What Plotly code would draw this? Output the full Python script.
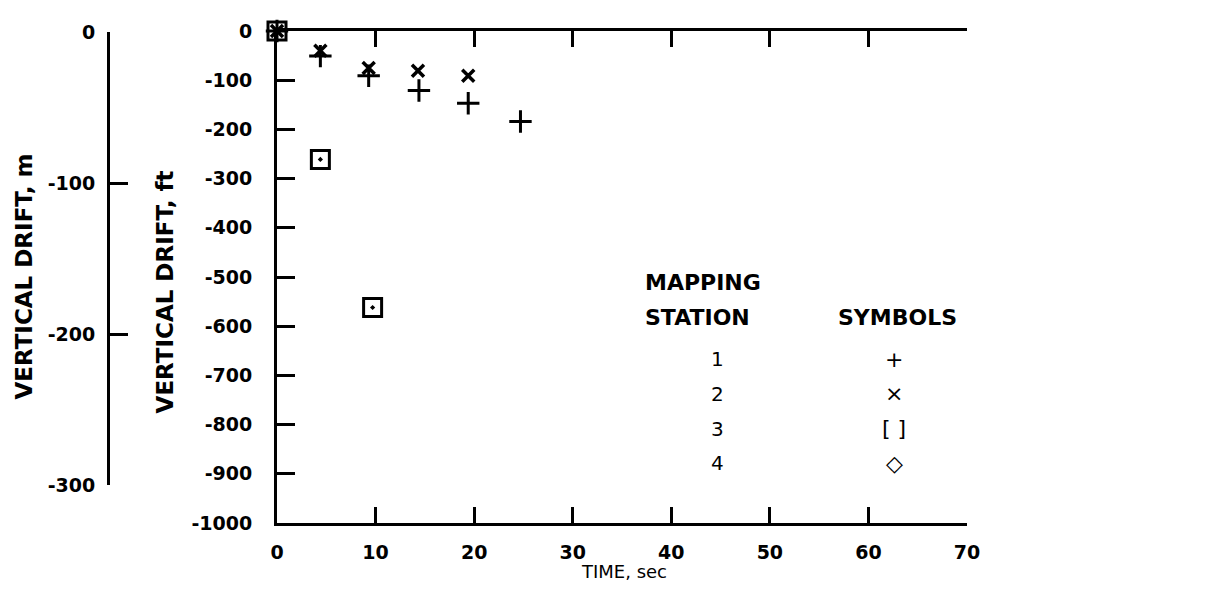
import plotly.graph_objects as go

# ---- data ----
station1_time = [0, 4.4, 9.3, 14.4, 19.4, 24.7]
station1_drift_ft = [0, -51, -91, -121, -147, -184]

station2_time = [0, 4.4, 9.3, 14.3, 19.4]
station2_drift_ft = [0, -40, -75, -81, -91]

station3_time = [0, 4.4, 9.7]
station3_drift_ft = [0, -261, -562]

x_ticks = [0, 10, 20, 30, 40, 50, 60, 70]
ft_ticks = [0, -100, -200, -300, -400, -500, -600, -700, -800, -900, -1000]
m_ticks = [0, -100, -200, -300]

legend_stations = ["1", "2", "3", "4"]
legend_symbols = ["+", "×", "[ ]", "◇"]

# page body has an 8px margin, so the figure is drawn 8px in from the window edge
OFF = 8
W, H = 1206 - 2 * OFF, 594 - 2 * OFF
# plot area in window pixels: x 277..967, y 28..523 ; extra left area for metre axis
L_SCR, R_SCR, T_SCR, B_SCR = 100, 967, 28, 523
ML, MT = L_SCR - OFF, T_SCR - OFF
MR = W - (R_SCR - OFF)
MB = H - (B_SCR - OFF)
PW = R_SCR - L_SCR
PH = B_SCR - T_SCR

def px_x(p):
    return (p - L_SCR) / PW

def px_y(p):
    return (B_SCR - p) / PH

FONT_AX = "DejaVu Sans"
black = "#000000"

fig = go.Figure()

fig.add_trace(go.Scatter(
    x=station1_time, y=station1_drift_ft, mode="markers", name="1",
    marker=dict(symbol="cross-thin-open", size=16, line=dict(width=3, color=black), color=black),
    cliponaxis=False, showlegend=False))
fig.add_trace(go.Scatter(
    x=station2_time, y=station2_drift_ft, mode="markers", name="2",
    marker=dict(symbol="x-thin-open", size=12, line=dict(width=3.5, color=black), color=black),
    cliponaxis=False, showlegend=False))
fig.add_trace(go.Scatter(
    x=station3_time, y=station3_drift_ft, mode="markers", name="3",
    marker=dict(symbol="square-open-dot", size=18, line=dict(width=3, color=black), color=black),
    cliponaxis=False, showlegend=False))
# empty trace so the metre axis is drawn
fig.add_trace(go.Scatter(x=[], y=[], yaxis="y2", showlegend=False, hoverinfo="skip"))

tickfont = dict(family=FONT_AX, size=19, color=black, weight="bold")

fig.update_layout(
    width=W, height=H,
    margin=dict(l=ML, r=MR, t=MT, b=MB),
    paper_bgcolor="white", plot_bgcolor="rgba(0,0,0,0)",
    xaxis=dict(
        domain=[px_x(277), 1], range=[0, 70],
        tickvals=x_ticks, ticktext=[str(v) for v in x_ticks],
        ticks="inside", ticklen=16, tickwidth=3, tickcolor=black,
        showline=True, linewidth=3, linecolor=black, mirror="ticks",
        showgrid=False, zeroline=False, tickfont=tickfont, ticklabelstandoff=10,
    ),
    yaxis=dict(
        domain=[0, 1], range=[-1000, 0],
        tickvals=ft_ticks, ticktext=[str(v) for v in ft_ticks],
        ticks="inside", ticklen=18, tickwidth=3, tickcolor=black,
        showline=True, linewidth=3, linecolor=black,
        showgrid=False, zeroline=False, tickfont=tickfont, ticklabelstandoff=18,
    ),
    yaxis2=dict(
        domain=[px_y(485), px_y(29)], range=[-300, 0],
        anchor="free", position=px_x(108), side="left",
        tickvals=m_ticks, ticktext=[str(v) for v in m_ticks],
        ticks="inside", ticklen=18, tickwidth=3, tickcolor=black,
        showline=True, linewidth=3, linecolor=black,
        showgrid=False, zeroline=False, tickfont=tickfont, ticklabelstandoff=8,
    ),
)

ann = []
title_font = dict(family=FONT_AX, size=23, color=black, weight="bold")
ann.append(dict(text="VERTICAL DRIFT, m", x=px_x(24), y=px_y(275), xref="paper", yref="paper",
                textangle=-90, showarrow=False, font=title_font, xanchor="center", yanchor="middle"))
ann.append(dict(text="VERTICAL DRIFT, ft", x=px_x(165), y=px_y(291), xref="paper", yref="paper",
                textangle=-90, showarrow=False, font=title_font, xanchor="center", yanchor="middle"))
ann.append(dict(text="TIME, sec", x=px_x(624), y=px_y(572), xref="paper", yref="paper",
                showarrow=False, font=dict(family=FONT_AX, size=18, color=black),
                xanchor="center", yanchor="middle"))

leg_font = dict(family=FONT_AX, size=22, color=black, weight="bold")
ann.append(dict(text="MAPPING", x=px_x(643), y=px_y(281), xref="paper", yref="paper",
                showarrow=False, font=leg_font, xanchor="left", yanchor="middle"))
ann.append(dict(text="STATION", x=px_x(643), y=px_y(316), xref="paper", yref="paper",
                showarrow=False, font=leg_font, xanchor="left", yanchor="middle"))
ann.append(dict(text="SYMBOLS", x=px_x(897), y=px_y(316), xref="paper", yref="paper",
                showarrow=False, font=leg_font, xanchor="center", yanchor="middle"))
row_y = [358, 393, 428, 463]
for s, sym, ry in zip(legend_stations, legend_symbols, row_y):
    ann.append(dict(text=s, x=px_x(717), y=px_y(ry), xref="paper", yref="paper",
                    showarrow=False, font=dict(family=FONT_AX, size=20, color=black),
                    xanchor="center", yanchor="middle"))
    ann.append(dict(text=sym, x=px_x(894), y=px_y(ry), xref="paper", yref="paper",
                    showarrow=False, font=dict(family=FONT_AX, size=22, color=black),
                    xanchor="center", yanchor="middle"))

fig.update_layout(annotations=ann)

fig.write_html("out.html")
